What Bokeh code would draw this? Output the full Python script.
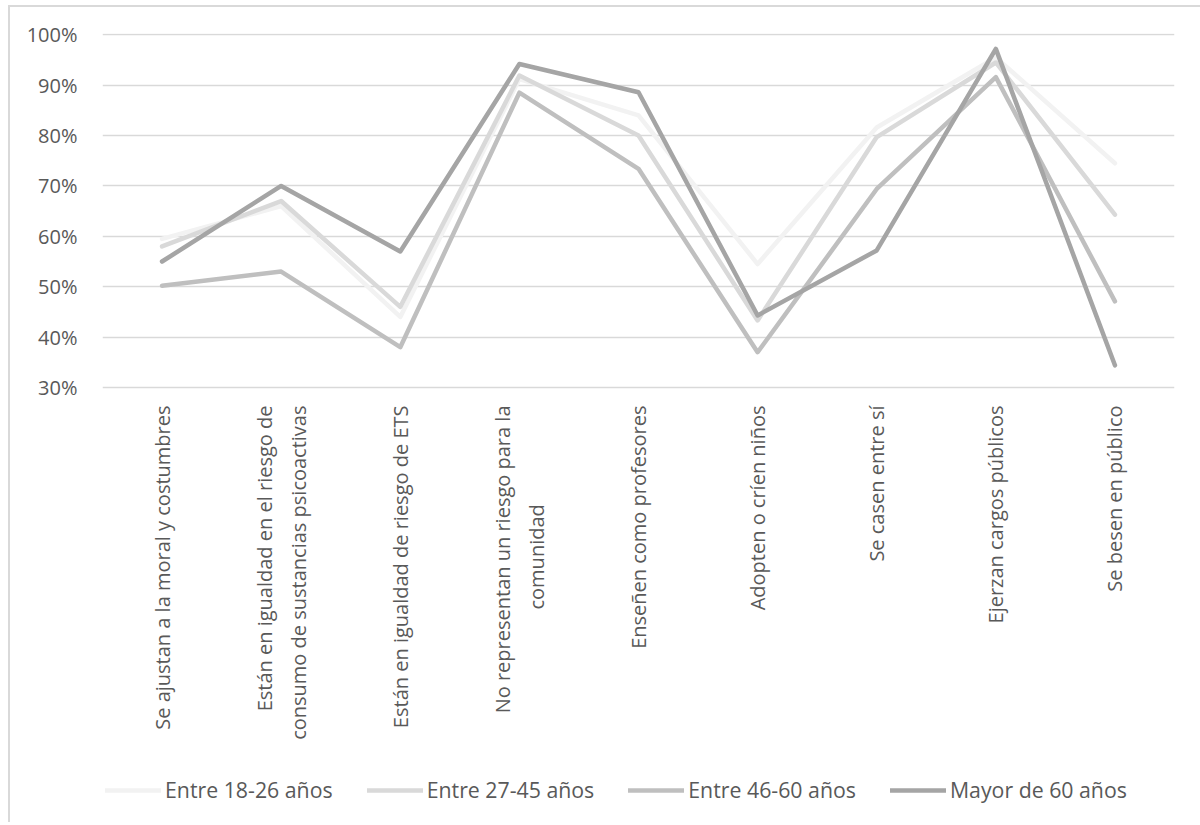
from bokeh.plotting import figure
from bokeh.models import Range1d, FixedTicker, PrintfTickFormatter, Legend, LegendItem, ColumnDataSource
from bokeh.core.properties import value
from bokeh.embed import file_html
from bokeh.resources import INLINE
import math

NB = "\u00a0"

categories = [
    "Se ajustan a la moral y costumbres",
    "Están en igualdad en el riesgo de consumo de sustancias psicoactivas",
    "Están en igualdad de riesgo de ETS",
    "No representan un riesgo para la comunidad",
    "Enseñen como profesores",
    "Adopten o críen niños",
    "Se casen entre sí",
    "Ejerzan cargos públicos",
    "Se besen en público",
]
# wrapped forms of the category names, as printed under the axis
category_labels = [
    "Se ajustan a la moral y costumbres",
    "Están en igualdad en el riesgo de\nconsumo de sustancias psicoactivas",
    "Están en igualdad de riesgo de ETS",
    "No representan un riesgo para la\ncomunidad" + NB * 19,
    "Enseñen como profesores",
    "Adopten o críen niños",
    "Se casen entre sí",
    "Ejerzan cargos públicos",
    "Se besen en público",
]

series_names = ["Entre 18-26 años", "Entre 27-45 años", "Entre 46-60 años", "Mayor de 60 años"]
entre_18_26 = [59.5, 66.0, 44.0, 91.2, 84.0, 54.5, 81.6, 95.5, 74.5]
entre_27_45 = [58.0, 67.0, 46.0, 91.9, 80.0, 43.3, 79.7, 94.5, 64.3]
entre_46_60 = [50.2, 53.0, 38.0, 88.5, 73.4, 37.0, 69.4, 91.6, 47.1]
mayor_60 = [55.0, 70.0, 57.0, 94.2, 88.6, 44.3, 57.2, 97.2, 34.4]
y_ticks = [30, 40, 50, 60, 70, 80, 90, 100]

colors = ["#f2f2f2", "#d9d9d9", "#bfbfbf", "#a5a5a5"]
FONT = "Open Sans"
TXT = "#595959"

# the plotting frame reaches down to the legend row; the value scale
# (30%..100%) occupies its upper 354 px
FRAME_H = 789
SCALE_H = 354
Y_MIN, Y_MAX = 30, 100.25
unit = SCALE_H / (Y_MAX - Y_MIN)
y_start = Y_MIN - (FRAME_H - SCALE_H) / unit

p = figure(
    x_range=categories,
    y_range=Range1d(y_start, Y_MAX),
    frame_width=1072, frame_height=FRAME_H,
    output_backend="svg", toolbar_location=None,
    min_border_left=92, min_border_right=26, min_border_top=26, min_border_bottom=0,
    background_fill_color="white", border_fill_color="white",
)
p.margin = (5, 0, 0, 8)
p.styles = {"border-left": "2px solid #d9d9d9", "border-top": "2px solid #d9d9d9"}
p.outline_line_color = None
p.xaxis.visible = False

items = []
for name, vals, col in zip(series_names, [entre_18_26, entre_27_45, entre_46_60, mayor_60], colors):
    r = p.line(categories, vals, line_color=col, line_width=4.5,
               line_join="round", line_cap="round")
    items.append(LegendItem(label=name, renderers=[r]))

# category names, rotated, hanging below the 30% baseline
label_src = ColumnDataSource(dict(
    x=categories,
    y=[Y_MIN - 18 / unit] * len(categories),
    text=category_labels,
))
p.text(x="x", y="y", text="text", source=label_src, angle=math.pi / 2,
       text_align="right", text_baseline="middle",
       text_font=value(FONT), text_font_size="20px", text_color=TXT,
       text_line_height=1.25)

# y axis: percentages, no line or ticks
p.yaxis.ticker = FixedTicker(ticks=y_ticks)
p.yaxis.formatter = PrintfTickFormatter(format="%d%%")
p.yaxis.axis_line_color = None
p.yaxis.major_tick_line_color = None
p.yaxis.minor_tick_line_color = None
p.yaxis.major_label_text_font = FONT
p.yaxis.major_label_text_font_size = "20px"
p.yaxis.major_label_text_color = TXT
p.yaxis.major_label_standoff = 19

p.ygrid.ticker = FixedTicker(ticks=y_ticks)
p.ygrid.grid_line_color = "#d9d9d9"
p.ygrid.grid_line_width = 1.5
p.xgrid.grid_line_color = None

legend = Legend(items=items, orientation="horizontal", location=(3, 18),
                glyph_width=56, glyph_height=20, label_standoff=4, spacing=34,
                label_text_font=FONT, label_text_font_size="21.3px",
                label_text_color=TXT, border_line_color=None,
                background_fill_alpha=0, margin=0, padding=0)
p.add_layout(legend, "center")

open("out.html", "w").write(file_html(p, INLINE))
